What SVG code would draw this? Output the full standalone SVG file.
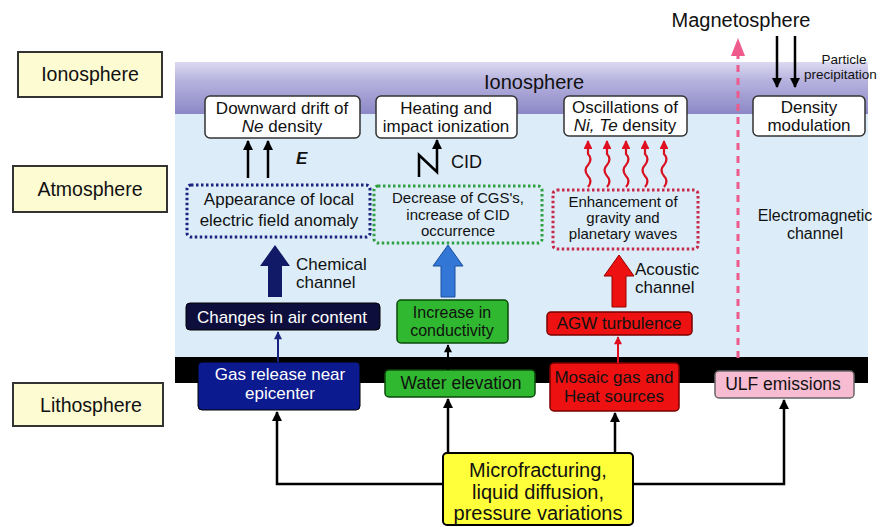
<svg xmlns="http://www.w3.org/2000/svg" width="883" height="527" viewBox="0 0 883 527">
<defs>
<linearGradient id="iono" x1="0" y1="0" x2="0" y2="1">
<stop offset="0" stop-color="#dcdaf0"/>
<stop offset="0.35" stop-color="#b7b3df"/>
<stop offset="1" stop-color="#8c88c6"/>
</linearGradient>
<marker id="ahB" viewBox="0 0 10 10" refX="9" refY="5" markerWidth="5" markerHeight="4" orient="auto" markerUnits="strokeWidth">
<path d="M0,0 L10,5 L0,10 z" fill="#000"/>
</marker>
<marker id="ahR" viewBox="0 0 10 10" refX="9" refY="5" markerWidth="4.5" markerHeight="4" orient="auto" markerUnits="strokeWidth">
<path d="M0,0 L10,5 L0,10 z" fill="#e01020"/>
</marker>
<marker id="ahN" viewBox="0 0 10 10" refX="9" refY="5" markerWidth="4.5" markerHeight="4" orient="auto" markerUnits="strokeWidth">
<path d="M0,0 L10,5 L0,10 z" fill="#1a2380"/>
</marker>
<marker id="ahK" viewBox="0 0 10 10" refX="9" refY="5" markerWidth="4.5" markerHeight="4" orient="auto" markerUnits="strokeWidth">
<path d="M0,0 L10,5 L0,10 z" fill="#000"/>
</marker>
</defs>
<style>
text{font-family:"Liberation Sans",Arial,sans-serif;fill:#111;}
.lbl{fill:#fdfbd2;stroke:#333;stroke-width:2;}
.lt{font-size:19.5px;text-anchor:middle;}
.wb{fill:#fff;stroke:#333;stroke-width:1.5;}
.t17{font-size:17px;text-anchor:middle;}
.t16{font-size:16px;text-anchor:middle;}
.t175{font-size:17.5px;text-anchor:middle;}
.t15{font-size:15px;text-anchor:middle;}
.ln{stroke:#000;stroke-width:2.5;fill:none;}
</style>
<rect width="883" height="527" fill="#fff"/>

<!-- background panel -->
<g id="panel">
<rect x="175" y="62" width="693" height="296" fill="#dcedf9"/>
<rect x="175" y="62" width="693" height="52" fill="url(#iono)"/>
<rect x="175" y="357" width="693" height="26" fill="#000"/>
<text x="534" y="89" style="font-size:20px;text-anchor:middle">Ionosphere</text>
<text x="741" y="27" style="font-size:20px;text-anchor:middle">Magnetosphere</text>
<text x="844" y="64" style="font-size:13.5px;text-anchor:middle">Particle</text>
<text x="804" y="79" style="font-size:13.5px">precipitation</text>
<text x="815" y="221" class="t16">Electromagnetic</text>
<text x="815" y="239" class="t16">channel</text>
<text x="296" y="270" style="font-size:17px">Chemical</text>
<text x="296" y="288" style="font-size:17px">channel</text>
<text x="635" y="275" style="font-size:17px">Acoustic</text>
<text x="635" y="293" style="font-size:17px">channel</text>
<text x="296" y="164" style="font-size:17px;font-style:italic;font-weight:bold">E</text>
<text x="451" y="168" style="font-size:18px">CID</text>
</g>

<!-- side labels -->
<g id="lab-iono"><rect class="lbl" x="18" y="52" width="144" height="45"/><text class="lt" x="90" y="81">Ionosphere</text></g>
<g id="lab-atmo"><rect class="lbl" x="13" y="166" width="154" height="46"/><text class="lt" x="90" y="196">Atmosphere</text></g>
<g id="lab-litho"><rect class="lbl" x="13" y="383" width="150" height="43"/><text class="lt" x="91" y="412">Lithosphere</text></g>

<!-- top white boxes -->
<g id="n-drift"><rect class="wb" x="205" y="96" width="155" height="42" rx="5"/>
<text class="t17" x="282" y="114">Downward drift of</text>
<text class="t17" x="282" y="132"><tspan font-style="italic">Ne</tspan> density</text></g>
<g id="n-heat"><rect class="wb" x="376" y="96" width="141" height="42" rx="5"/>
<text class="t17" x="446" y="114">Heating and</text>
<text class="t17" x="446" y="132">impact ionization</text></g>
<g id="n-osc"><rect class="wb" x="564" y="96" width="123" height="40" rx="5"/>
<text class="t17" x="625" y="113">Oscillations of</text>
<text class="t17" x="625" y="131"><tspan font-style="italic">Ni, Te</tspan> density</text></g>
<g id="n-dens"><rect class="wb" x="753" y="96" width="112" height="40" rx="5"/>
<text class="t17" x="809" y="113">Density</text>
<text class="t17" x="809" y="131">modulation</text></g>

<!-- dotted boxes -->
<g id="n-appear"><rect x="187" y="185" width="183" height="52" rx="4" fill="none" stroke="#1a237e" stroke-width="3" stroke-dasharray="2.5 2.5"/>
<text class="t17" x="279" y="205">Appearance of local</text>
<text class="t17" x="279" y="226">electric field anomaly</text></g>
<g id="n-decr"><rect x="374" y="186" width="168" height="57" rx="4" fill="none" stroke="#2ea043" stroke-width="3" stroke-dasharray="2.5 2.5"/>
<text class="t15" x="458" y="203">Decrease of CGS's,</text>
<text class="t15" x="458" y="220">increase of CID</text>
<text class="t15" x="458" y="236">occurrence</text></g>
<g id="n-enh"><rect x="553" y="190" width="145" height="59" rx="4" fill="none" stroke="#c8284a" stroke-width="3" stroke-dasharray="2.5 2.5"/>
<text class="t15" x="623" y="207">Enhancement of</text>
<text class="t15" x="623" y="223">gravity and</text>
<text class="t15" x="623" y="239">planetary waves</text></g>

<!-- middle boxes -->
<g id="n-air"><rect x="186" y="303" width="194" height="27" rx="4" fill="#0e0e3c" stroke="#000" stroke-width="1"/>
<text class="t17" x="282" y="323" style="fill:#fff">Changes in air content</text></g>
<g id="n-cond"><rect x="397" y="300" width="111" height="43" rx="4" fill="#30b830" stroke="#0a4a0a" stroke-width="1.5"/>
<text class="t16" x="452" y="318">Increase in</text>
<text class="t16" x="452" y="336">conductivity</text></g>
<g id="n-agw"><rect x="547" y="312" width="145" height="23" rx="4" fill="#ee1111" stroke="#700" stroke-width="1.5"/>
<text class="t17" x="619" y="329">AGW turbulence</text></g>

<!-- bottom boxes -->
<g id="n-gas"><rect x="198" y="362" width="162" height="48" rx="4" fill="#0b1a8e" stroke="#000" stroke-width="1"/>
<text class="t17" x="280" y="380" style="fill:#fff">Gas release near</text>
<text class="t17" x="280" y="399" style="fill:#fff">epicenter</text></g>
<g id="n-water"><rect x="385" y="370" width="150" height="27" rx="4" fill="#30b830" stroke="#0a4a0a" stroke-width="1.5"/>
<text class="t175" x="461" y="389">Water elevation</text></g>
<g id="n-mosaic"><rect x="550" y="363" width="129" height="48" rx="4" fill="#ee1111" stroke="#700" stroke-width="1.5"/>
<text class="t17" x="614" y="383">Mosaic gas and</text>
<text class="t17" x="614" y="402">Heat sources</text></g>
<g id="n-ulf"><rect x="715" y="371" width="139" height="27" rx="4" fill="#f8bcd2" stroke="#666" stroke-width="1.5"/>
<text class="t175" x="783" y="390">ULF emissions</text></g>
<g id="n-micro"><rect x="443" y="453" width="190" height="72" rx="4" fill="#ffff3a" stroke="#000" stroke-width="2"/>
<text x="538" y="477" style="font-size:20px;text-anchor:middle">Microfracturing,</text>
<text x="538" y="499" style="font-size:20px;text-anchor:middle">liquid diffusion,</text>
<text x="538" y="520" style="font-size:20px;text-anchor:middle">pressure variations</text></g>

<!-- connectors -->
<g id="connectors">
<path class="ln" d="M443,484 H277 V412" marker-end="url(#ahB)"/>
<path class="ln" d="M448,453 V399" marker-end="url(#ahB)"/>
<path class="ln" d="M615,453 V413" marker-end="url(#ahB)"/>
<path class="ln" d="M633,484 H784 V400" marker-end="url(#ahB)"/>
<path d="M278,362 V332" stroke="#1a2380" stroke-width="2" fill="none" marker-end="url(#ahN)"/>
<path d="M448,370 V345" stroke="#000" stroke-width="2" fill="none" marker-end="url(#ahK)"/>
<path d="M618,363 V337" stroke="#e01020" stroke-width="2" fill="none" marker-end="url(#ahR)"/>
<polygon points="275,245 290,266 282,266 282,297 268,297 268,266 260,266" fill="#101a66"/>
<polygon points="448,245 463,266 455,266 455,297 441,297 441,266 433,266" fill="#3277d6" stroke="#1a4ea0" stroke-width="1"/>
<polygon points="619,255 634,276 626,276 626,307 612,307 612,276 604,276" fill="#ee1111" stroke="#900" stroke-width="1"/>
<path class="ln" d="M248,178 V141" marker-end="url(#ahB)"/>
<path class="ln" d="M268,178 V141" marker-end="url(#ahB)"/>
<path class="ln" d="M419,177 V155 L437,172 V140" marker-end="url(#ahB)"/>
<g stroke="#d81020" stroke-width="2.2" fill="none">
<path d="M588,187 q5,-6 0,-11 q-5,-6 0,-11 q5,-6 0,-11 l0,-13" marker-end="url(#ahR)"/>
<path d="M607,187 q5,-6 0,-11 q-5,-6 0,-11 q5,-6 0,-11 l0,-13" marker-end="url(#ahR)"/>
<path d="M626,187 q5,-6 0,-11 q-5,-6 0,-11 q5,-6 0,-11 l0,-13" marker-end="url(#ahR)"/>
<path d="M645,187 q5,-6 0,-11 q-5,-6 0,-11 q5,-6 0,-11 l0,-13" marker-end="url(#ahR)"/>
<path d="M664,187 q5,-6 0,-11 q-5,-6 0,-11 q5,-6 0,-11 l0,-13" marker-end="url(#ahR)"/>
</g>
<path d="M738,358 V52" stroke="#ee5a8c" stroke-width="3" stroke-dasharray="7 6" fill="none"/>
<polygon points="738,38 745,56 731,56" fill="#ee5a8c"/>
<path class="ln" d="M777,36 V87" marker-end="url(#ahB)"/>
<path class="ln" d="M795,36 V87" marker-end="url(#ahB)"/>
</g>
</svg>
